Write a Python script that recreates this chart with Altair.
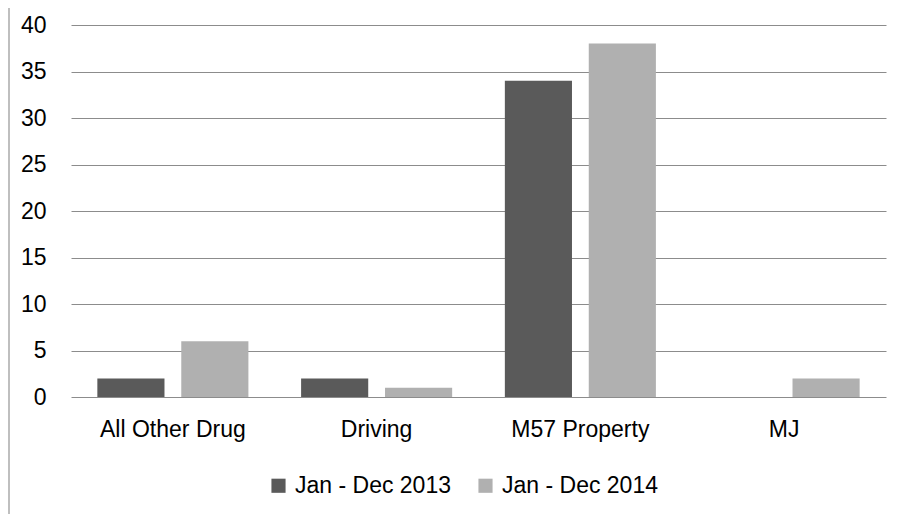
import altair as alt
import pandas as pd

categories = ["All Other Drug", "Driving", "M57 Property", "MJ"]
series_names = ["Jan - Dec 2013", "Jan - Dec 2014"]
values_2013 = [2, 2, 34, 0]
values_2014 = [6, 1, 38, 2]
y_ticks = [0, 5, 10, 15, 20, 25, 30, 35, 40]

rows = []
for c, v in zip(categories, values_2013):
    rows.append({"category": c, "series": series_names[0], "value": v})
for c, v in zip(categories, values_2014):
    rows.append({"category": c, "series": series_names[1], "value": v})
df = pd.DataFrame(rows)

FONT = "Liberation Sans"
FS = 23
W, H = 815, 372

bars = alt.Chart(df).mark_bar().encode(
    x=alt.X("category:N", sort=categories,
            scale=alt.Scale(paddingInner=0, paddingOuter=0),
            axis=alt.Axis(title=None, labelAngle=0, labelFontSize=FS, labelFont=FONT,
                          labelColor="#000000", labelPadding=21, ticks=False,
                          domain=False, grid=False)),
    xOffset=alt.XOffset("series:N", sort=series_names,
                        scale=alt.Scale(paddingInner=0.2, paddingOuter=0.314)),
    y=alt.Y("value:Q", scale=alt.Scale(domain=[0, 40], nice=False),
            axis=alt.Axis(title=None, values=y_ticks, labelFontSize=FS, labelFont=FONT,
                          labelColor="#000000", labelPadding=25, ticks=False,
                          domain=False, grid=True, gridColor="#8c8c8c", gridWidth=1)),
    color=alt.Color("series:N", sort=series_names,
                    scale=alt.Scale(domain=series_names, range=["#5a5a5a", "#b0b0b0"]),
                    legend=alt.Legend(title=None, orient="none", direction="horizontal",
                                      legendX=196, legendY=449, symbolType="square",
                                      symbolSize=200, symbolStrokeWidth=0,
                                      labelFontSize=FS, labelFont=FONT, labelColor="#000000",
                                      labelOffset=5, columnPadding=23)),
)

border = alt.Chart(df).mark_rule(color="#bfbfbf", strokeWidth=2, clip=False).encode(
    x=alt.value(-62), y=alt.value(-17), y2=alt.value(H + 130)
)

chart = alt.layer(border, bars).properties(
    width=W, height=H,
    autosize=alt.AutoSizeParams(type="none"),
    padding={"left": 63, "top": 17, "right": 15, "bottom": 117},
).configure_view(stroke=None)

chart.save("out.html", embed_options={"renderer": "svg", "actions": False})
